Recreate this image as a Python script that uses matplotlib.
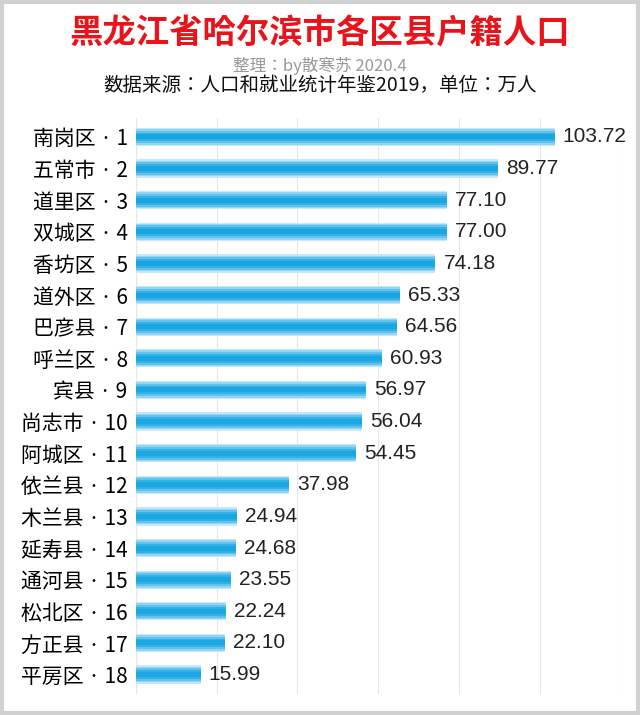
import matplotlib
matplotlib.use("Agg")
import matplotlib.pyplot as plt
from matplotlib.patches import Rectangle
from matplotlib import font_manager

cjk = ['Noto Sans CJK JP', 'Noto Sans CJK SC', 'Noto Sans CJK TC', 'DejaVu Sans']
plt.rcParams['font.family'] = 'sans-serif'
plt.rcParams['font.sans-serif'] = cjk
names_avail = {f.name for f in font_manager.fontManager.ttflist}
numfont = 'Liberation Sans Narrow' if 'Liberation Sans Narrow' in names_avail else 'Liberation Sans'

names = ["南岗区", "五常市", "道里区", "双城区", "香坊区", "道外区", "巴彦县", "呼兰区", "宾县",
         "尚志市", "阿城区", "依兰县", "木兰县", "延寿县", "通河县", "松北区", "方正县", "平房区"]
values = [103.72, 89.77, 77.10, 77.00, 74.18, 65.33, 64.56, 60.93, 56.97,
          56.04, 54.45, 37.98, 24.94, 24.68, 23.55, 22.24, 22.10, 15.99]
labels = [f"{n} · {i+1}" for i, n in enumerate(names)]

fig = plt.figure(figsize=(6.4, 7.15), dpi=100)
fig.patches.append(Rectangle((0.003, 0.003), 0.994, 0.994, transform=fig.transFigure,
                             fill=False, edgecolor='#d0d0d0', linewidth=3))
ax = fig.add_axes([0.2125, 0.03, 0.757, 0.805])
y = list(range(len(values)))
layers = [(0.58, '#c4e8f9'), (0.5, '#95d5f4'), (0.4, '#62c2ed'), (0.28, '#33b1e6'), (0.16, '#1aa6e0')]
for h, c in layers:
    ax.barh(y, values, height=h, color=c, edgecolor='none', zorder=2)
for yi, v in zip(y, values):
    ax.text(v + 2, yi, f"{v:.2f}", va='center', ha='left', fontsize=15, color='#222222',
            family=numfont)
ax.set_yticks(y)
ax.set_yticklabels(labels, fontsize=15)
ax.set_ylim(17.6, -0.6)
ax.set_xlim(0, 120)
ax.set_xticks(range(0, 121, 20))
ax.tick_params(axis='x', length=0, labelbottom=False)
ax.tick_params(axis='y', length=0, pad=6)
ax.grid(axis='x', color='#e6e6e6', linewidth=0.8, zorder=0)
for s in ax.spines.values():
    s.set_visible(False)
ax.axvline(0, color='#d0d0d0', linewidth=0.8, zorder=1)

fig.text(0.5, 0.953, "黑龙江省哈尔滨市各区县户籍人口", ha='center', va='center',
         fontsize=24, color='#e8141c', fontweight='bold')
fig.text(0.5, 0.908, "整理：by散寒苏 2020.4", ha='center', va='center', fontsize=12, color='#999999')
fig.text(0.5, 0.88, "数据来源：人口和就业统计年鉴2019，单位：万人", ha='center', va='center',
         fontsize=14, color='#111111')
fig.savefig("out.png", dpi=100)
